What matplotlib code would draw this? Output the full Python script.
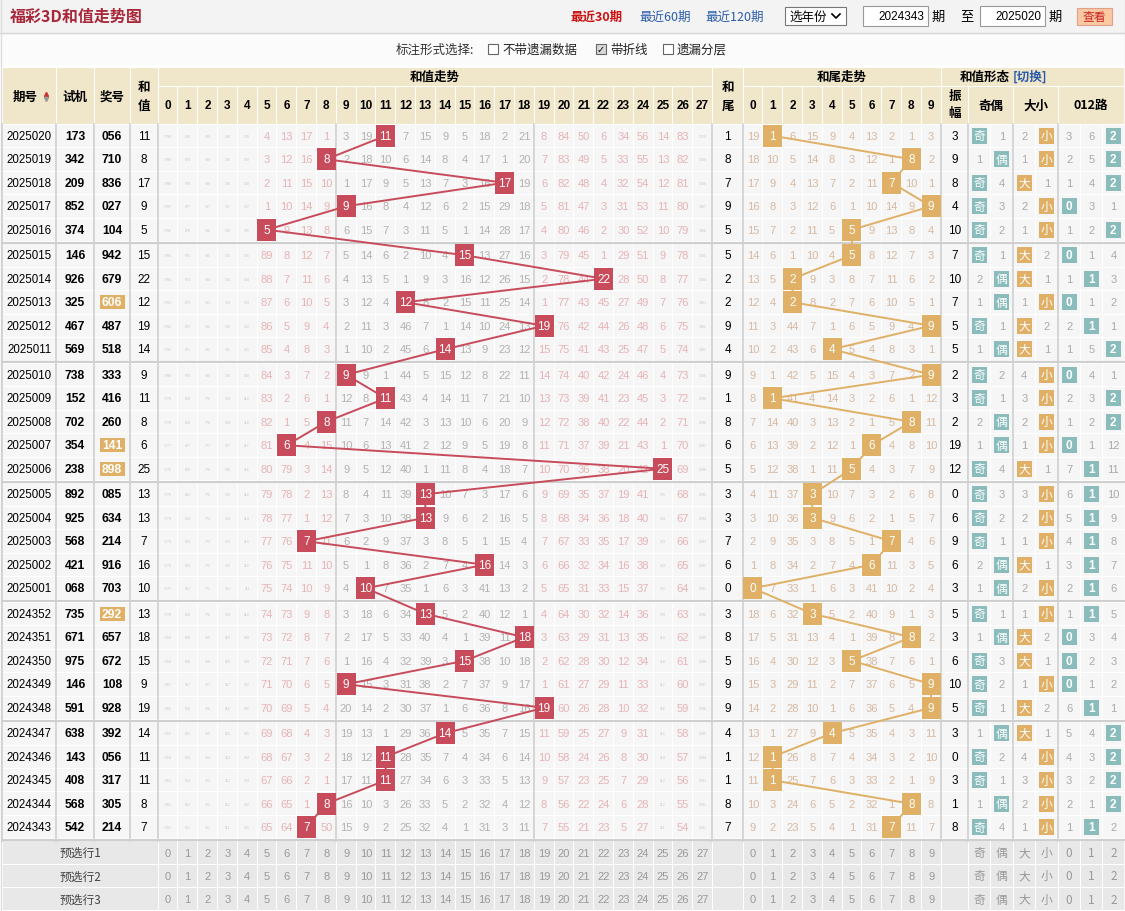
import matplotlib
matplotlib.use('Agg')
import matplotlib.pyplot as plt
from matplotlib.patches import Rectangle

plt.rcParams['font.family'] = ['Noto Sans CJK SC', 'DejaVu Sans']

# ---------------- data ----------------
issues = ['2025020', '2025019', '2025018', '2025017', '2025016', '2025015', '2025014', '2025013',
          '2025012', '2025011', '2025010', '2025009', '2025008', '2025007', '2025006', '2025005',
          '2025004', '2025003', '2025002', '2025001', '2024352', '2024351', '2024350', '2024349',
          '2024348', '2024347', '2024346', '2024345', '2024344', '2024343']
trial = ['173', '342', '209', '852', '374', '146', '926', '325', '467', '569', '738', '152', '702', '354',
         '238', '892', '925', '568', '421', '068', '735', '671', '975', '146', '591', '638', '143', '408',
         '568', '542']
prize = ['056', '710', '836', '027', '104', '942', '679', '606', '487', '518', '333', '416', '260', '141',
         '898', '085', '634', '214', '916', '703', '292', '657', '672', '108', '928', '392', '056', '317',
         '305', '214']
prize_pair = [0, 0, 0, 0, 0, 0, 0, 1, 0, 0, 0, 0, 0, 1, 1, 0, 0, 0, 0, 0, 1, 0, 0, 0, 0, 0, 0, 0, 0, 0]
sums = [11, 8, 17, 9, 5, 15, 22, 12, 19, 14, 9, 11, 8, 6, 25, 13, 13, 7, 16, 10, 13, 18, 15, 9, 19, 14,
        11, 11, 8, 7]
tails = [1, 8, 7, 9, 5, 5, 2, 2, 9, 4, 9, 1, 8, 6, 5, 3, 3, 7, 6, 0, 3, 8, 5, 9, 9, 4, 1, 1, 8, 7]
amps = [3, 9, 8, 4, 10, 7, 10, 7, 5, 5, 2, 3, 2, 19, 12, 0, 6, 9, 6, 3, 5, 3, 6, 10, 5, 3, 0, 3, 1, 8]

# omission counts for sum 0..27 ('*' = hit)
sum_miss = [
    "1790 880 790 140 130 4 13 17 1 3 19 * 7 15 9 5 18 2 21 8 84 50 6 34 56 14 83 1310",
    "1789 879 789 139 129 3 12 16 * 2 18 10 6 14 8 4 17 1 20 7 83 49 5 33 55 13 82 1309",
    "1788 878 788 138 128 2 11 15 10 1 17 9 5 13 7 3 16 * 19 6 82 48 4 32 54 12 81 1308",
    "1787 877 787 137 127 1 10 14 9 * 16 8 4 12 6 2 15 29 18 5 81 47 3 31 53 11 80 1307",
    "1786 876 786 136 126 * 9 13 8 6 15 7 3 11 5 1 14 28 17 4 80 46 2 30 52 10 79 1306",
    "1785 875 785 135 125 89 8 12 7 5 14 6 2 10 4 * 13 27 16 3 79 45 1 29 51 9 78 1305",
    "1784 874 784 134 124 88 7 11 6 4 13 5 1 9 3 16 12 26 15 2 78 44 * 28 50 8 77 1304",
    "1783 873 783 133 123 87 6 10 5 3 12 4 * 8 2 15 11 25 14 1 77 43 45 27 49 7 76 1303",
    "1782 872 782 132 122 86 5 9 4 2 11 3 46 7 1 14 10 24 13 * 76 42 44 26 48 6 75 1302",
    "1781 871 781 131 121 85 4 8 3 1 10 2 45 6 * 13 9 23 12 15 75 41 43 25 47 5 74 1301",
    "1780 870 780 130 120 84 3 7 2 * 9 1 44 5 15 12 8 22 11 14 74 40 42 24 46 4 73 1300",
    "1779 869 779 129 119 83 2 6 1 12 8 * 43 4 14 11 7 21 10 13 73 39 41 23 45 3 72 1299",
    "1778 868 778 128 118 82 1 5 * 11 7 14 42 3 13 10 6 20 9 12 72 38 40 22 44 2 71 1298",
    "1777 867 777 127 117 81 * 4 15 10 6 13 41 2 12 9 5 19 8 11 71 37 39 21 43 1 70 1297",
    "1776 866 776 126 116 80 79 3 14 9 5 12 40 1 11 8 4 18 7 10 70 36 38 20 42 * 69 1296",
    "1775 865 775 125 115 79 78 2 13 8 4 11 39 * 10 7 3 17 6 9 69 35 37 19 41 125 68 1295",
    "1774 864 774 124 114 78 77 1 12 7 3 10 38 * 9 6 2 16 5 8 68 34 36 18 40 124 67 1294",
    "1773 863 773 123 113 77 76 * 11 6 2 9 37 3 8 5 1 15 4 7 67 33 35 17 39 123 66 1293",
    "1772 862 772 122 112 76 75 11 10 5 1 8 36 2 7 4 * 14 3 6 66 32 34 16 38 122 65 1292",
    "1771 861 771 121 111 75 74 10 9 4 * 7 35 1 6 3 41 13 2 5 65 31 33 15 37 121 64 1291",
    "1770 860 770 120 110 74 73 9 8 3 18 6 34 * 5 2 40 12 1 4 64 30 32 14 36 120 63 1290",
    "1769 859 769 119 109 73 72 8 7 2 17 5 33 40 4 1 39 11 * 3 63 29 31 13 35 119 62 1289",
    "1768 858 768 118 108 72 71 7 6 1 16 4 32 39 3 * 38 10 18 2 62 28 30 12 34 118 61 1288",
    "1767 857 767 117 107 71 70 6 5 * 15 3 31 38 2 7 37 9 17 1 61 27 29 11 33 117 60 1287",
    "1766 856 766 116 106 70 69 5 4 20 14 2 30 37 1 6 36 8 16 * 60 26 28 10 32 116 59 1286",
    "1765 855 765 115 105 69 68 4 3 19 13 1 29 36 * 5 35 7 15 11 59 25 27 9 31 115 58 1285",
    "1764 854 764 114 104 68 67 3 2 18 12 * 28 35 7 4 34 6 14 10 58 24 26 8 30 114 57 1284",
    "1763 853 763 113 103 67 66 2 1 17 11 * 27 34 6 3 33 5 13 9 57 23 25 7 29 113 56 1283",
    "1762 852 762 112 102 66 65 1 * 16 10 3 26 33 5 2 32 4 12 8 56 22 24 6 28 112 55 1282",
    "1761 851 761 111 101 65 64 * 50 15 9 2 25 32 4 1 31 3 11 7 55 21 23 5 27 111 54 1281",
]

# omission counts for tail 0..9
tail_miss = [
    "19 * 6 15 9 4 13 2 1 3", "18 10 5 14 8 3 12 1 * 2", "17 9 4 13 7 2 11 * 10 1",
    "16 8 3 12 6 1 10 14 9 *", "15 7 2 11 5 * 9 13 8 4", "14 6 1 10 4 * 8 12 7 3",
    "13 5 * 9 3 8 7 11 6 2", "12 4 * 8 2 7 6 10 5 1", "11 3 44 7 1 6 5 9 4 *",
    "10 2 43 6 * 5 4 8 3 1", "9 1 42 5 15 4 3 7 2 *", "8 * 41 4 14 3 2 6 1 12",
    "7 14 40 3 13 2 1 5 * 11", "6 13 39 2 12 1 * 4 8 10", "5 12 38 1 11 * 4 3 7 9",
    "4 11 37 * 10 7 3 2 6 8", "3 10 36 * 9 6 2 1 5 7", "2 9 35 3 8 5 1 * 4 6",
    "1 8 34 2 7 4 * 11 3 5", "* 7 33 1 6 3 41 10 2 4", "18 6 32 * 5 2 40 9 1 3",
    "17 5 31 13 4 1 39 8 * 2", "16 4 30 12 3 * 38 7 6 1", "15 3 29 11 2 7 37 6 5 *",
    "14 2 28 10 1 6 36 5 4 *", "13 1 27 9 * 5 35 4 3 11", "12 * 26 8 7 4 34 3 2 10",
    "11 * 25 7 6 3 33 2 1 9", "10 3 24 6 5 2 32 1 * 8", "9 2 23 5 4 1 31 * 11 7",
]

# 奇 偶 | 大 小 | 0 1 2 路  ('*' = hit)
form_miss = [
    "* 1 2 * 3 6 *", "1 * 1 * 2 5 *", "* 4 * 1 1 4 *", "* 3 2 * * 3 1", "* 2 1 * 1 2 *",
    "* 1 * 2 * 1 4", "2 * * 1 1 * 3", "1 * 1 * * 1 2", "* 1 * 2 2 * 1", "1 * * 1 1 5 *",
    "* 2 4 * * 4 1", "* 1 3 * 2 3 *", "2 * 2 * 1 2 *", "1 * 1 * * 1 12", "* 4 * 1 7 * 11",
    "* 3 3 * 6 * 10", "* 2 2 * 5 * 9", "* 1 1 * 4 * 8", "2 * * 1 3 * 7", "1 * 2 * 2 * 6",
    "* 1 1 * 1 * 5", "1 * * 2 * 3 4", "* 3 * 1 * 2 3", "* 2 1 * * 1 2", "* 1 * 2 6 * 1",
    "1 * * 1 5 4 *", "* 2 4 * 4 3 *", "* 1 3 * 3 2 *", "1 * 2 * 2 1 *", "* 4 1 * 1 * 2",
]
form_labels = ['奇', '偶', '大', '小', '0', '1', '2']
sum_cols = [str(i) for i in range(28)]
tail_cols = [str(i) for i in range(10)]
bottom_rows = ['预选行1', '预选行2', '预选行3']

# ---------------- style ----------------
RED = '#c84b5b'
ORANGE = '#e0b066'
TEAL = '#8bbcbc'
BEIGE = '#f0e6c9'
CELL = '#f6f6f6'
SEP = '#cfcfcf'
BOT = '#e8e8e8'
NUMF = ['Liberation Sans', 'DejaVu Sans']

W, H = 1125, 912
fig = plt.figure(figsize=(W / 100, H / 100), dpi=100)
ax = fig.add_axes([0, 0, 1, 1])
ax.set_xlim(0, W)
ax.set_ylim(H, 0)
ax.axis('off')


def rect(x0, y0, x1, y1, fc, ec='none', lw=0, z=1):
    ax.add_patch(Rectangle((x0, y0), x1 - x0, y1 - y0, facecolor=fc, edgecolor=ec, linewidth=lw, zorder=z))


def txt(x, y, s, size=8, color='black', weight='normal', ha='center', fam=None, z=2, **kw):
    ax.text(x, y, s, fontsize=size, color=color, fontweight=weight, ha=ha, va='center',
            family=fam if fam else plt.rcParams['font.family'], zorder=z, **kw)


# layout
X_ISSUE, X_TRIAL, X_PRIZE, X_SUM, X_GRID = 2, 56, 94, 130, 158
SW = 19.8
X_TAIL = X_GRID + 28 * SW
X_TG = 743
X_AMP = X_TG + 10 * SW
X_FORM = 968
form_edges = [968, 990.5, 1013, 1035.5, 1058, 1080.3, 1102.7, 1124]
HDR1, HDR2, ROW0, RH, GAP = 68, 87, 125, 23.5, 2
BOT0, BH = 842, 23.3


def rtop(i):
    return ROW0 + i * RH + (i // 5) * GAP


def sx(i):
    return X_GRID + (i + 0.5) * SW


def tx(j):
    return X_TG + (j + 0.5) * SW


# ---------------- top bars ----------------
rect(0, 0, W, 34, '#f3f3f3')
ax.plot([0, W], [33.5, 33.5], color='#d5d5d5', lw=1)
rect(0, 34, W, 66, '#fbfbfb')
ax.plot([0.5, 0.5], [0, H], color='#dddddd', lw=1)
ax.plot([W - 0.5, W - 0.5], [0, H], color='#dddddd', lw=1)
txt(10, 17, '福彩3D和值走势图', size=11.5, color='#a8283a', weight='bold', ha='left')
txt(571, 17, '最近30期', size=9, color='#cc1111', weight='bold', ha='left')
txt(639, 17, '最近60期', size=9, color='#2a5caa', ha='left')
txt(705, 17, '最近120期', size=9, color='#2a5caa', ha='left')
rect(785, 8, 846, 26, 'white', '#777777', 0.8)
txt(789, 17, '选年份', size=9, ha='left')
ax.plot([832, 836, 840], [15, 19, 15], color='black', lw=1.2, zorder=3)
rect(863, 7, 928, 27, 'white', '#999999', 0.8)
txt(924, 17, '2024343', size=8.5, ha='right', fam=NUMF)
txt(938, 17, '期', size=9.5)
txt(967, 17, '至', size=9.5)
rect(980, 7, 1045, 27, 'white', '#999999', 0.8)
txt(1041, 17, '2025020', size=8.5, ha='right', fam=NUMF)
txt(1055, 17, '期', size=9.5)
rect(1077, 9, 1112, 26, '#f9c9a2', '#e0a08a', 0.8)
txt(1094.5, 17.5, '查看', size=8.5, color='#cc2222')

txt(435, 50, '标注形式选择:', size=9, color='#333333')
for cx, label, checked in [(493, '不带遗漏数据', False), (601, '带折线', True), (668, '遗漏分层', False)]:
    rect(cx - 5, 45, cx + 5, 55, '#d8d8d8' if checked else 'white', '#666666', 0.8, z=3)
    if checked:
        txt(cx, 50, '✓', size=7, fam=['DejaVu Sans'], z=4)
    txt(cx + 9, 50, label, size=9, ha='left', color='#222222')

# ---------------- header ----------------
rect(X_ISSUE, HDR1, W - 1, ROW0, 'white')


def hcell(x0, x1, y0, y1):
    rect(x0 + 0.5, y0 + 0.5, x1 - 0.5, y1 - 0.5, BEIGE)


hcell(X_ISSUE, X_TRIAL, HDR1, ROW0)
txt(25, 97, '期号', size=9, weight='bold')
ax.plot([46], [94.5], marker='^', color='#cc3333', ms=3, zorder=3)
ax.plot([46], [99.5], marker='v', color='#999999', ms=3, zorder=3)
hcell(X_TRIAL, X_PRIZE, HDR1, ROW0)
txt((X_TRIAL + X_PRIZE) / 2, 97, '试机', size=9, weight='bold')
hcell(X_PRIZE, X_SUM, HDR1, ROW0)
txt((X_PRIZE + X_SUM) / 2, 97, '奖号', size=9, weight='bold')
hcell(X_SUM, X_GRID, HDR1, ROW0)
txt((X_SUM + X_GRID) / 2, 87, '和', size=9, weight='bold')
txt((X_SUM + X_GRID) / 2, 106, '值', size=9, weight='bold')
hcell(X_GRID, X_TAIL, HDR1, HDR2)
txt((X_GRID + X_TAIL) / 2, 77.5, '和值走势', size=9, weight='bold')
for i, s in enumerate(sum_cols):
    hcell(X_GRID + i * SW, X_GRID + (i + 1) * SW, HDR2, ROW0)
    txt(sx(i), 106, s, size=8.5, weight='bold', fam=NUMF)
hcell(X_TAIL, X_TG, HDR1, ROW0)
txt((X_TAIL + X_TG) / 2, 87, '和', size=9, weight='bold')
txt((X_TAIL + X_TG) / 2, 106, '尾', size=9, weight='bold')
hcell(X_TG, X_AMP, HDR1, HDR2)
txt((X_TG + X_AMP) / 2, 77.5, '和尾走势', size=9, weight='bold')
for j, s in enumerate(tail_cols):
    hcell(X_TG + j * SW, X_TG + (j + 1) * SW, HDR2, ROW0)
    txt(tx(j), 106, s, size=8.5, weight='bold', fam=NUMF)
hcell(X_AMP, W - 1, HDR1, HDR2)
txt(1010, 77.5, '和值形态', size=9, weight='bold', ha='right')
txt(1013, 77.5, '[切换]', size=9, weight='bold', color='#2a5caa', ha='left')
hcell(X_AMP, X_FORM, HDR2, ROW0)
txt((X_AMP + X_FORM) / 2, 96, '振', size=9, weight='bold')
txt((X_AMP + X_FORM) / 2, 114, '幅', size=9, weight='bold')
for k, lab in enumerate(['奇偶', '大小', '012路']):
    x0 = form_edges[[0, 2, 4][k]]
    x1 = form_edges[[2, 4, 7][k]]
    hcell(x0, x1, HDR2, ROW0)
    txt((x0 + x1) / 2, 106, lab, size=9, weight='bold')

# ---------------- data rows ----------------
rect(X_ISSUE, ROW0, W - 1, BOT0, 'white')
sum_pts = []
tail_pts = []
for r in range(len(issues)):
    y0 = rtop(r)
    y1 = y0 + RH
    yc = (y0 + y1) / 2
    cols = [(X_ISSUE, X_TRIAL), (X_TRIAL, X_PRIZE), (X_PRIZE, X_SUM), (X_SUM, X_GRID),
            (X_TAIL, X_TG), (X_AMP, X_FORM)]
    cols += [(X_GRID + i * SW, X_GRID + (i + 1) * SW) for i in range(28)]
    cols += [(X_TG + j * SW, X_TG + (j + 1) * SW) for j in range(10)]
    cols += [(form_edges[k], form_edges[k + 1]) for k in range(7)]
    for a, b in cols:
        rect(a + 0.5, y0 + 0.5, b - 0.5, y1 - 0.5, CELL)
    txt(29, yc, issues[r], size=8.3, fam=NUMF)
    txt((X_TRIAL + X_PRIZE) / 2, yc, trial[r], size=8.7, fam=NUMF, weight='bold')
    pc = (X_PRIZE + X_SUM) / 2
    if prize_pair[r]:
        rect(pc - 12.5, yc - 7, pc + 12.5, yc + 7, ORANGE, z=2)
        txt(pc, yc, prize[r], size=8.7, fam=NUMF, weight='bold', color='white', z=3)
    else:
        txt(pc, yc, prize[r], size=8.7, fam=NUMF, weight='bold')
    txt((X_SUM + X_GRID) / 2, yc, str(sums[r]), size=8.5, fam=NUMF)
    txt((X_TAIL + X_TG) / 2, yc, str(tails[r]), size=8.5, fam=NUMF)
    txt((X_AMP + X_FORM) / 2, yc, str(amps[r]), size=8.5, fam=NUMF)

    # sum grid
    for i, v in enumerate(sum_miss[r].split()):
        if v == '*':
            sum_pts.append((sx(i), yc))
            rect(sx(i) - 9.5, y0 + 0.8, sx(i) + 9.5, y1 - 0.8, RED, z=4)
            txt(sx(i), yc, str(i), size=8.5, color='white', fam=NUMF, z=5)
        else:
            col = '#b2b2b2' if 9 <= i <= 18 else '#e6b3b6'
            if int(v) >= 100:
                txt(sx(i), yc, v, size=2.6, color='#c8c8c8', fam=NUMF)
            else:
                txt(sx(i), yc, v, size=8, color=col, fam=NUMF)
    # tail grid
    for j, v in enumerate(tail_miss[r].split()):
        if v == '*':
            tail_pts.append((tx(j), yc))
            rect(tx(j) - 9.5, y0 + 0.8, tx(j) + 9.5, y1 - 0.8, ORANGE, z=4)
            txt(tx(j), yc, str(j), size=8.5, color='white', fam=NUMF, z=5)
        else:
            txt(tx(j), yc, v, size=8, color='#d6b9a2', fam=NUMF)
    # form
    for k, v in enumerate(form_miss[r].split()):
        cx = (form_edges[k] + form_edges[k + 1]) / 2
        if v == '*':
            fc = ORANGE if k in (2, 3) else TEAL
            rect(cx - 7.5, yc - 8, cx + 7.5, yc + 8, fc, z=4)
            lab = form_labels[k]
            if lab.isdigit():
                txt(cx, yc, lab, size=8.5, color='white', weight='bold', fam=NUMF, z=5)
            else:
                txt(cx, yc, lab, size=8.5, color='white', z=5)
        else:
            txt(cx, yc, v, size=8, color='#aaaaaa', fam=NUMF)

ax.plot([p[0] for p in sum_pts], [p[1] for p in sum_pts], color=RED, lw=1.4, zorder=3)
ax.plot([p[0] for p in tail_pts], [p[1] for p in tail_pts], color=ORANGE, lw=1.4, zorder=3)

# ---------------- bottom rows ----------------
rect(X_ISSUE, BOT0, W - 1, H, 'white')
for b, lab in enumerate(bottom_rows):
    y0 = BOT0 + b * BH
    y1 = y0 + BH
    yc = (y0 + y1) / 2
    rect(X_ISSUE + 0.5, y0 + 0.5, X_GRID - 0.5, y1 - 0.5, BOT)
    txt(80, yc, lab, size=8.5, color='#444444')
    for i, s in enumerate(sum_cols):
        rect(X_GRID + i * SW + 0.5, y0 + 0.5, X_GRID + (i + 1) * SW - 0.5, y1 - 0.5, BOT)
        txt(sx(i), yc, s, size=8, color='#999999', fam=NUMF)
    rect(X_TAIL + 0.5, y0 + 0.5, X_TG - 0.5, y1 - 0.5, BOT)
    for j, s in enumerate(tail_cols):
        rect(X_TG + j * SW + 0.5, y0 + 0.5, X_TG + (j + 1) * SW - 0.5, y1 - 0.5, BOT)
        txt(tx(j), yc, s, size=8, color='#999999', fam=NUMF)
    rect(X_AMP + 0.5, y0 + 0.5, X_FORM - 0.5, y1 - 0.5, BOT)
    for k in range(7):
        rect(form_edges[k] + 0.5, y0 + 0.5, form_edges[k + 1] - 0.5, y1 - 0.5, BOT)
        txt((form_edges[k] + form_edges[k + 1]) / 2, yc, form_labels[k], size=8.5, color='#999999')

# ---------------- separators ----------------
for xv in [X_ISSUE, X_TRIAL, X_PRIZE, X_SUM, X_GRID, X_GRID + 9 * SW, X_GRID + 19 * SW, X_TAIL, X_TG,
           X_AMP, X_FORM, form_edges[2], form_edges[4]]:
    ax.plot([xv, xv], [ROW0, BOT0], color=SEP, lw=1.2, zorder=2.5)
for g in range(1, 7):
    yv = rtop(5 * g) - GAP / 2 if g < 6 else BOT0 - 0.5
    ax.plot([X_ISSUE, W - 1], [yv, yv], color=SEP, lw=1.5, zorder=2.5)

fig.savefig('out.png', dpi=100)
